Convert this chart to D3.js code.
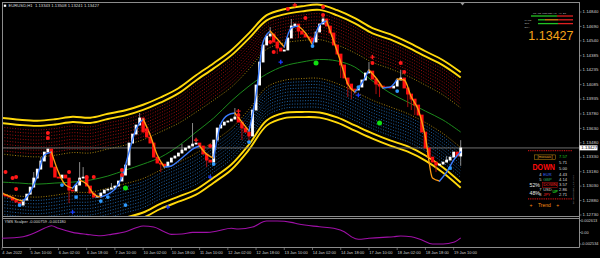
<!DOCTYPE html>
<html>
<head>
    <title>EURUSD,H1</title>
    <meta charset="utf-8">
    <script src="https://cdn.jsdelivr.net/npm/d3@7"></script>
    <style>
        * { box-sizing: border-box; }
        body { margin: 0; background: #000; }
        svg { display: block; }
        text { font-family: "Liberation Sans", Arial, sans-serif; }
    </style>
</head>
<body>
    <div id="chart"></div>

    <script>
        // EURUSD H1, one candle per 2 hours, closes
        const firstOpen = 1.12958;
        const closes = [
            1.12937, 1.12927, 1.12916, 1.12885, 1.12864, 1.12833, 1.12885, 1.12947, 1.13020, 1.13114,
            1.13207, 1.13291, 1.13384, 1.13415, 1.13228, 1.13124, 1.13114, 1.13145, 1.13114, 1.12989,
            1.12979, 1.13041, 1.13114, 1.13124, 1.13031, 1.12958, 1.12916, 1.12921, 1.12958, 1.12989,
            1.12999, 1.13010, 1.13031, 1.13083, 1.13145, 1.13249, 1.13478, 1.13571, 1.13665, 1.13738,
            1.13592, 1.13540, 1.13478, 1.13332, 1.13270, 1.13259, 1.13239, 1.13280, 1.13322, 1.13343,
            1.13374, 1.13405, 1.13426, 1.13447, 1.13467, 1.13478, 1.13447, 1.13363, 1.13301, 1.13280,
            1.13509, 1.13634, 1.13665, 1.13696, 1.13707, 1.13727, 1.13748, 1.13696, 1.13634, 1.13592,
            1.13551, 1.13821, 1.14081, 1.14320, 1.14497, 1.14590, 1.14611, 1.14528, 1.14466, 1.14434,
            1.14445, 1.14570, 1.14694, 1.14715, 1.14642, 1.14611, 1.14580, 1.14570, 1.14528, 1.14632,
            1.14715, 1.14767, 1.14694, 1.14622, 1.14497, 1.14403, 1.14289, 1.14154, 1.14091, 1.14039,
            1.14029, 1.14060, 1.14133, 1.14206, 1.14226, 1.14143, 1.14091, 1.14070, 1.14060, 1.14055,
            1.14050, 1.14070, 1.14133, 1.14154, 1.14050, 1.13987, 1.13935, 1.13873, 1.13769, 1.13592,
            1.13426, 1.13332, 1.13280, 1.13249, 1.13259, 1.13280, 1.13301, 1.13332, 1.13384, 1.13343,
            1.13427
        ];
        // [candle, high, low] where a wick sticks out
        const spikes = [
            [9, 1.13176, null], [11, 1.13332, null], [19, null, 1.12854], [22, 1.13280, null],
            [23, 1.13228, null], [31, 1.13062, null], [34, 1.13197, null], [39, 1.13790, null],
            [45, null, 1.13176], [51, 1.13467, null], [54, 1.13686, null], [58, null, 1.13228],
            [66, 1.13842, null], [68, null, 1.13509], [70, null, 1.13467], [76, 1.14684, null],
            [78, null, 1.14403], [82, 1.14767, null], [84, null, 1.14570], [91, 1.14809, null],
            [96, null, 1.14154], [98, null, 1.13956], [99, null, 1.13935], [100, null, 1.13987],
            [104, 1.14320, null], [106, null, 1.13987], [107, null, 1.13956], [113, 1.14237, null],
            [115, null, 1.13852], [116, null, 1.13821], [117, null, 1.13769], [123, null, 1.13176],
            [126, 1.13342, null], [130, 1.13508, 1.13241]
        ];

        // channel, sampled every 5 candles
        const bandAt = d3.range(0, 131, 5);
        const upperBand = [1.13712, 1.13693, 1.13683, 1.13698, 1.13724, 1.13714, 1.13755, 1.13792, 1.13849,
            1.13927, 1.14021, 1.14156, 1.14281, 1.14416, 1.14593, 1.14780, 1.14842, 1.14873, 1.14889,
            1.14832, 1.14749, 1.14645, 1.14582, 1.14499, 1.14405, 1.14312, 1.14187];
        const lowerBand = [1.12552, 1.12531, 1.12521, 1.12542, 1.12573, 1.12583, 1.12625, 1.12677, 1.12729,
            1.12822, 1.12895, 1.12968, 1.13093, 1.13228, 1.13436, 1.13686, 1.13764, 1.13774, 1.13769,
            1.13717, 1.13634, 1.13551, 1.13478, 1.13415, 1.13322, 1.13197, 1.13041];
        const midLine = [1.13072, 1.13062, 1.13051, 1.13062, 1.13072, 1.13093, 1.13135, 1.13197, 1.13259,
            1.13332, 1.13447, 1.13592, 1.13738, 1.13915, 1.14070, 1.14195, 1.14279, 1.14320, 1.14346,
            1.14331, 1.14268, 1.14123, 1.13998, 1.13904, 1.13810, 1.13717, 1.13592];
        const redZone = [0.06, 0.09, 0.12, 0.15, 0.18, 0.21, 0.24, 0.27, 0.30];
        const blueZone = [0.66, 0.69, 0.72, 0.75, 0.78, 0.81, 0.84, 0.87, 0.90, 0.93];

        // fast trend line, every 2 candles
        const hmaVal = [
            1.12958, 1.12927, 1.12895, 1.12875, 1.12968, 1.13135, 1.13353, 1.13384, 1.13176, 1.13041,
            1.13010, 1.13093, 1.13051, 1.12947, 1.12916, 1.12947, 1.12999, 1.13124, 1.13384, 1.13623,
            1.13727, 1.13561, 1.13353, 1.13228, 1.13239, 1.13291, 1.13353, 1.13415, 1.13447, 1.13363,
            1.13322, 1.13675, 1.13769, 1.13790, 1.13696, 1.13603, 1.13977, 1.14528, 1.14642, 1.14559,
            1.14476, 1.14674, 1.14694, 1.14622, 1.14497, 1.14705, 1.14746, 1.14538, 1.14320, 1.14091,
            1.14008, 1.14102, 1.14237, 1.14154, 1.14050, 1.14060, 1.14143, 1.14133, 1.13956, 1.13821,
            1.13540, 1.13114, 1.13083, 1.13176, 1.13301, 1.13384
        ];

        // signal markers [candle, price]
        const redDots = [[1, 1.13176], [3, 1.13114], [4, 1.13124], [4, 1.12999], [13, 1.13582], [13, 1.13530],
            [19, 1.13176], [24, 1.13124], [26, 1.13124], [34, 1.13197], [34, 1.13145], [41, 1.13613],
            [59, 1.13447], [67, 1.13769], [76, 1.14528], [77, 1.14424], [81, 1.14871], [86, 1.14778],
            [91, 1.14892], [91, 1.14809], [105, 1.14310], [113, 1.14310], [114, 1.14216]];
        const redCrosses = [[55, 1.13509], [67, 1.13810], [83, 1.14913], [105, 1.14372]];
        const blueDots = [[5, 1.12833], [17, 1.13041], [21, 1.12916], [28, 1.12875], [30, 1.12916],
            [35, 1.12833], [60, 1.13259], [70, 1.13488], [88, 1.14486], [101, 1.14060], [112, 1.14018],
            [127, 1.13218]];
        const blueCrosses = [[20, 1.12760], [47, 1.12812], [59, 1.13124], [79, 1.14320], [101, 1.13977]];
        const greenDots = [[35, 1.13010], [89, 1.14310], [107, 1.13686]];

        // YMS Scalper sub window
        const scalperAt = [0, 6, 9, 12, 14, 16, 20, 24, 28, 31, 35, 38, 40, 43, 46, 48, 51, 54, 58, 61,
            65, 67, 71, 75, 78, 82, 84, 90, 94, 97, 99, 101, 104, 108, 111, 113, 116, 119, 122, 125, 128, 130];
        const scalperVal = [-0.00128, -0.00093, -0.00018, 0.00093, 0.00150, 0.00093, 0.00004, -0.00040,
            -0.00071, -0.00040, 0.00018, 0.00106, 0.00144, 0.00121, 0.00018, -0.00040, -0.00033, 0.00004,
            0.00004, 0.00033, 0.00093, 0.00077, 0.00121, 0.00254, 0.00254, 0.00225, 0.00188, 0.00128,
            0.00093, 0.00018, -0.00093, -0.00150, -0.00128, -0.00106, -0.00093, -0.00077, -0.00093,
            -0.00166, -0.00254, -0.00254, -0.00216, -0.00118];

        const priceTicks = [1.14840, 1.14690, 1.14540, 1.14385, 1.14235, 1.14085, 1.13935, 1.13780,
            1.13630, 1.13480, 1.13330, 1.13180, 1.13030, 1.12880, 1.12730];
        const subTicks = [0.002613, 0, -0.002534];
        const subTickLabels = ["0.002613", "0.00", "-0.002534"];
        const timeLabels = ["4 Jan 2022", "5 Jan 10:00", "6 Jan 02:00", "6 Jan 18:00", "7 Jan 10:00",
            "10 Jan 02:00", "10 Jan 18:00", "11 Jan 10:00", "12 Jan 02:00", "12 Jan 18:00", "13 Jan 10:00",
            "14 Jan 02:00", "14 Jan 18:00", "17 Jan 10:00", "18 Jan 02:00", "18 Jan 18:00", "19 Jan 10:00"];
        const bid = 1.13427;
        const header = "EURUSD,H1  1.13343 1.13508 1.13241 1.13427";
        const scalperHeader = "YMS Scalper -0.000759 -0.001180";

        // currency strength box (names hidden under the DOWN labels are left blank)
        const strengthRank = ["", "", "", "4", "5", "", "7", "8"];
        const strengthCur = ["[mosaic]", "", "", "EUR", "GBP", "", "USD", "JPY"];
        const strengthVal = ["7.57", "5.71", "5.00", "4.43", "4.14", "3.57", "2.86", "2.71"];
        const strengthCol = ["#e0a020", "#4a7bff", "#cfcfcf", "#3a6bff", "#2fa860", "#ff2020", "#cfcfcf", "#ff2020"];

        // mini trend bars: [label, [from, to, colour]...]
        const trendRows = [
            ["", [[531, 557, "#22c322"], [557, 573, "#e02020"]]],
            ["MACD", [[538, 545, "#22c322"], [545, 558, "#d98a10"], [558, 573, "#e02020"]]],
            ["STR", [[538, 558, "#22c322"], [558, 573, "#e02020"]]]
        ];

        const W = 600, H = 258;
        const plot = {left: 3, right: 579, top: 3, bottom: 216.5};

        const x = d3.scaleLinear().domain([0, 130]).range([2, 460.7]);
        const y = d3.scaleLinear().domain([1.1273, 1.1484]).range([215, 12]);
        const ySub = d3.scaleLinear().domain([-0.002534, 0.002613]).range([244, 220.7]);

        const svg = d3.select("#chart")
            .append("svg")
            .attr("width", W)
            .attr("height", H)
            .style("background", "#000");

        svg.append("clipPath").attr("id", "main")
            .append("rect")
            .attr("x", plot.left).attr("y", plot.top)
            .attr("width", plot.right - plot.left)
            .attr("height", plot.bottom - plot.top);

        const g = svg.append("g").attr("clip-path", "url(#main)");

        const band = bandAt.map((i, k) => ({i: i, up: upperBand[k], lo: lowerBand[k], mid: midLine[k]}));

        // dotted zones inside the channel
        function zoneLine(f) {
            return d3.line()
                .x(d => x(d.i))
                .y(d => y(d.up + f * (d.lo - d.up)))
                .curve(d3.curveCatmullRom)(band);
        }
        redZone.forEach((f, k) => {
            g.append("path")
                .attr("d", zoneLine(f))
                .attr("fill", "none")
                .attr("stroke", k === redZone.length - 1 ? "#a8820e" : "#9a0e0e")
                .attr("stroke-width", 1)
                .attr("stroke-dasharray", "1,1.6");
        });
        blueZone.forEach((f, k) => {
            g.append("path")
                .attr("d", zoneLine(f))
                .attr("fill", "none")
                .attr("stroke", k === 0 ? "#a8820e" : "#1f64a8")
                .attr("stroke-width", 1)
                .attr("stroke-dasharray", "1,1.6");
        });

        // green middle line
        g.append("path")
            .attr("d", d3.line().x(d => x(d.i)).y(d => y(d.mid)).curve(d3.curveCatmullRom)(band))
            .attr("fill", "none")
            .attr("stroke", "#1c8a1c")
            .attr("stroke-width", 1);

        // yellow double channel lines
        ["up", "lo"].forEach(key => {
            const d = d3.line().x(p => x(p.i)).y(p => y(p[key])).curve(d3.curveCatmullRom)(band);
            [-2.6, 2.6].forEach(off => {
                g.append("path")
                    .attr("d", d)
                    .attr("transform", `translate(0,${off})`)
                    .attr("fill", "none")
                    .attr("stroke", "#ffd80a")
                    .attr("stroke-width", 1.9);
            });
        });

        // bid line
        g.append("line")
            .attr("x1", plot.left).attr("x2", plot.right)
            .attr("y1", y(bid)).attr("y2", y(bid))
            .attr("stroke", "#8a8a8a")
            .attr("stroke-width", 0.8);

        // candles
        const spikeMap = new Map(spikes.map(s => [s[0], s]));
        const candles = closes.map((c, i) => {
            const o = i === 0 ? firstOpen : closes[i - 1];
            const s = spikeMap.get(i);
            const hi = s && s[1] !== null ? s[1] : Math.max(o, c);
            const lo = s && s[2] !== null ? s[2] : Math.min(o, c);
            return {i: i, o: o, c: c, hi: hi, lo: lo, up: c >= o};
        });

        g.selectAll(".wick").data(candles).enter().append("line")
            .attr("x1", d => x(d.i)).attr("x2", d => x(d.i))
            .attr("y1", d => y(d.hi)).attr("y2", d => y(d.lo))
            .attr("stroke", d => d.up ? "#9a9a9a" : "#c01010")
            .attr("stroke-width", 0.9);

        g.selectAll(".body").data(candles).enter().append("rect")
            .attr("x", d => x(d.i) - (d.up ? 1.4 : 1.7))
            .attr("width", d => d.up ? 2.8 : 3.4)
            .attr("y", d => y(Math.max(d.o, d.c)) - 0.4)
            .attr("height", d => Math.max(1.2, Math.abs(y(d.o) - y(d.c)) + 0.8))
            .attr("fill", d => d.up ? "#ffffff" : "#ff1010");

        // trend line, blue while rising, orange while falling
        const hma = hmaVal.map((v, k) => ({i: k * 2, v: v}));
        const runs = [];
        for (let k = 0; k < hma.length - 1; k++) {
            const rising = hma[k + 1].v >= hma[k].v;
            const last = runs[runs.length - 1];
            if (last && last.rising === rising) {
                last.pts.push(hma[k + 1]);
            } else {
                runs.push({rising: rising, pts: [hma[k], hma[k + 1]]});
            }
        }
        const hmaLine = d3.line().x(d => x(d.i)).y(d => y(d.v)).curve(d3.curveMonotoneX);
        runs.forEach(r => {
            g.append("path")
                .attr("d", hmaLine(r.pts))
                .attr("fill", "none")
                .attr("stroke", r.rising ? "#3a7cff" : "#ff9a10")
                .attr("stroke-width", 1.4)
                .attr("stroke-linecap", "round");
        });

        // markers
        function dots(list, r, colour) {
            g.selectAll(null).data(list).enter().append("circle")
                .attr("cx", d => x(d[0])).attr("cy", d => y(d[1]))
                .attr("r", r).attr("fill", colour);
        }
        function crosses(list, colour) {
            g.selectAll(null).data(list).enter().append("path")
                .attr("d", d => {
                    const cx = x(d[0]), cy = y(d[1]);
                    return `M${cx - 2.2},${cy}H${cx + 2.2}M${cx},${cy - 2.2}V${cy + 2.2}`;
                })
                .attr("stroke", colour).attr("stroke-width", 1.3);
        }
        dots(redDots, 2, "#ff1818");
        crosses(redCrosses, "#ff1818");
        dots(blueDots, 1.9, "#2f9bff");
        crosses(blueCrosses, "#1a3cff");
        dots(greenDots, 2.5, "#10e010");

        // frame
        const frame = svg.append("g").attr("stroke", "#8c8c8c").attr("stroke-width", 1);
        frame.append("line").attr("x1", 2.5).attr("x2", 2.5).attr("y1", 2).attr("y2", 247.5);
        frame.append("line").attr("x1", 2).attr("x2", 579.5).attr("y1", 2.5).attr("y2", 2.5);
        frame.append("line").attr("x1", 579.5).attr("x2", 579.5).attr("y1", 2).attr("y2", 247.5);
        frame.append("line").attr("x1", 2).attr("x2", 579.5).attr("y1", 216.5).attr("y2", 216.5);
        frame.append("line").attr("x1", 2).attr("x2", 579.5).attr("y1", 218.5).attr("y2", 218.5);
        frame.append("line").attr("x1", 2).attr("x2", 579.5).attr("y1", 247.5).attr("y2", 247.5);

        // shift marker
        svg.append("path").attr("d", "M460.5,3 L464.5,3 L462.5,5.5 Z").attr("fill", "#9a9a9a");

        // header
        svg.append("rect").attr("x", 3.8).attr("y", 4.6).attr("width", 2.4).attr("height", 2.2).attr("fill", "#fff");
        svg.append("text").attr("x", 8.5).attr("y", 5.8)
            .attr("dominant-baseline", "middle")
            .attr("font-size", 4.2).attr("fill", "#dcdcdc")
            .attr("xml:space", "preserve")
            .text(header);

        // price axis
        const axis = svg.append("g").attr("font-size", 4.4).attr("fill", "#d0d0d0");
        priceTicks.forEach(p => {
            axis.append("line").attr("x1", 579.5).attr("x2", 581.5)
                .attr("y1", y(p)).attr("y2", y(p)).attr("stroke", "#a0a0a0").attr("stroke-width", 0.6);
            axis.append("text").attr("x", 582.5).attr("y", y(p))
                .attr("dominant-baseline", "middle").text(p.toFixed(5));
        });
        svg.append("rect").attr("x", 579.5).attr("y", y(bid) - 2.6).attr("width", 18).attr("height", 5)
            .attr("fill", "#ffffff");
        svg.append("text").attr("x", 581.3).attr("y", y(bid) + 0.1)
            .attr("dominant-baseline", "middle").attr("font-size", 4.4).attr("fill", "#000")
            .text(bid.toFixed(5));

        // sub window
        const subLine = d3.line()
            .x((d, k) => x(scalperAt[k]))
            .y(d => ySub(d))
            .curve(d3.curveMonotoneX);
        svg.append("path")
            .attr("d", subLine(scalperVal))
            .attr("fill", "none")
            .attr("stroke", "#a010a8")
            .attr("stroke-width", 1.1);
        svg.append("text").attr("x", 4.5).attr("y", 221.5)
            .attr("dominant-baseline", "middle").attr("font-size", 4).attr("fill", "#dcdcdc")
            .text(scalperHeader);
        const subAxis = svg.append("g").attr("font-size", 3.9).attr("fill", "#d0d0d0");
        subTicks.forEach((v, k) => {
            subAxis.append("line").attr("x1", 579.5).attr("x2", 581).attr("y1", ySub(v)).attr("y2", ySub(v))
                .attr("stroke", "#a0a0a0").attr("stroke-width", 0.6);
            subAxis.append("text").attr("x", 581).attr("y", ySub(v))
                .attr("dominant-baseline", "middle").text(subTickLabels[k]);
        });

        // time axis
        const tAxis = svg.append("g").attr("font-size", 4).attr("fill", "#d0d0d0");
        timeLabels.forEach((t, k) => {
            const tx = x(k * 8);
            tAxis.append("line").attr("x1", tx).attr("x2", tx).attr("y1", 247.5).attr("y2", 250)
                .attr("stroke", "#a0a0a0").attr("stroke-width", 0.6);
            tAxis.append("text").attr("x", tx + 0.3).attr("y", 252.6)
                .attr("dominant-baseline", "middle").text(t);
        });

        // top right info: mini bars and big price
        const info = svg.append("g");
        info.append("text").attr("x", 533).attr("y", 13.8).attr("font-size", 2.4).attr("fill", "#c8c8c8")
            .attr("xml:space", "preserve")
            .text("M1  M5  M15 M30  H1   H4  D1");
        trendRows.forEach((row, k) => {
            const ry = 16 + k * 3.8;
            info.append("text").attr("x", 524.5).attr("y", ry + 0.2).attr("dominant-baseline", "middle")
                .attr("font-size", 2.4).attr("fill", "#b8b8b8").text(row[0]);
            row[1].forEach(s => {
                info.append("line").attr("x1", s[0]).attr("x2", s[1]).attr("y1", ry).attr("y2", ry)
                    .attr("stroke", s[2]).attr("stroke-width", 1.3);
            });
        });
        info.append("text").attr("x", 524.5).attr("y", 27.2).attr("dominant-baseline", "middle")
            .attr("font-size", 2.4).attr("fill", "#b8b8b8").text("EMA");
        info.append("text").attr("x", 573.5).attr("y", 39.5).attr("text-anchor", "end")
            .attr("font-size", 12.5).attr("fill", "#f5a318")
            .text(bid.toFixed(5));

        // currency strength box
        const box = svg.append("g");
        [150.6, 198.8].forEach(ly => {
            box.append("line").attr("x1", 528).attr("x2", 572).attr("y1", ly).attr("y2", ly)
                .attr("stroke", "#c01010").attr("stroke-width", 1.3).attr("stroke-dasharray", "1,0.8");
        });
        const rowY = [157.2, 163.4, 168.7, 174.6, 179.8, 185, 190.3, 195.4];
        strengthCur.forEach((c, k) => {
            const ty = rowY[k];
            if (k === 0) {
                box.append("rect").attr("x", 534.5).attr("y", ty - 2.3).attr("width", 21).attr("height", 4.6)
                    .attr("fill", "none").attr("stroke", "#c89010").attr("stroke-width", 0.5);
                box.append("text").attr("x", 545).attr("y", ty).attr("text-anchor", "middle")
                    .attr("dominant-baseline", "middle").attr("font-size", 4.1).attr("fill", strengthCol[k])
                    .text(c);
            } else if (c) {
                box.append("text").attr("x", 541.5).attr("y", ty).attr("text-anchor", "end")
                    .attr("dominant-baseline", "middle").attr("font-size", 4).attr("fill", "#dcdcdc")
                    .text(strengthRank[k]);
                box.append("text").attr("x", 543.2).attr("y", ty)
                    .attr("dominant-baseline", "middle").attr("font-size", 4).attr("fill", strengthCol[k])
                    .text(c);
            }
            box.append("text").attr("x", 559).attr("y", ty)
                .attr("dominant-baseline", "middle").attr("font-size", 4.1)
                .attr("fill", k === 0 ? "#20d020" : "#dcdcdc")
                .text(strengthVal[k]);
        });
        box.append("text").attr("x", 532.5).attr("y", 170.2)
            .attr("font-size", 8).attr("font-weight", "bold").attr("fill", "#ff0c0c")
            .attr("textLength", 22.5).attr("lengthAdjust", "spacingAndGlyphs")
            .attr("transform", "translate(532.5,170.2) scale(1,1.2) translate(-532.5,-170.2)")
            .text("DOWN");
        box.append("text").attr("x", 529.5).attr("y", 185.2).attr("dominant-baseline", "middle")
            .attr("font-size", 5.2).attr("fill", "#e8e8e8").text("52%");
        box.append("rect").attr("x", 542.5).attr("y", 182.6).attr("width", 15).attr("height", 5)
            .attr("fill", "#000").attr("stroke", "#c01010").attr("stroke-width", 0.5);
        box.append("text").attr("x", 543.2).attr("y", 185.2).attr("dominant-baseline", "middle")
            .attr("font-size", 4.4).attr("fill", "#ff2020")
            .attr("textLength", 13.6).attr("lengthAdjust", "spacingAndGlyphs").text("DOWN");
        box.append("text").attr("x", 529.5).attr("y", 193.3).attr("dominant-baseline", "middle")
            .attr("font-size", 5.2).attr("fill", "#e8e8e8").text("48%");
        box.append("text").attr("x", 552.6).attr("y", 192.4).attr("dominant-baseline", "middle")
            .attr("font-size", 3.8).attr("font-weight", "bold").attr("fill", "#20d020").text("UP");
        box.append("text").attr("x", 529.5).attr("y", 205.3).attr("dominant-baseline", "middle")
            .attr("font-size", 5).attr("fill", "#ff8c10")
            .attr("xml:space", "preserve").text("+    Trend    +");
        box.append("text")
            .attr("transform", "translate(573.2,175) rotate(90)")
            .attr("font-size", 2.3).attr("fill", "#808080")
            .text("Copyright © MetaQuotes Ltd.");
    </script>
</body>
</html>
